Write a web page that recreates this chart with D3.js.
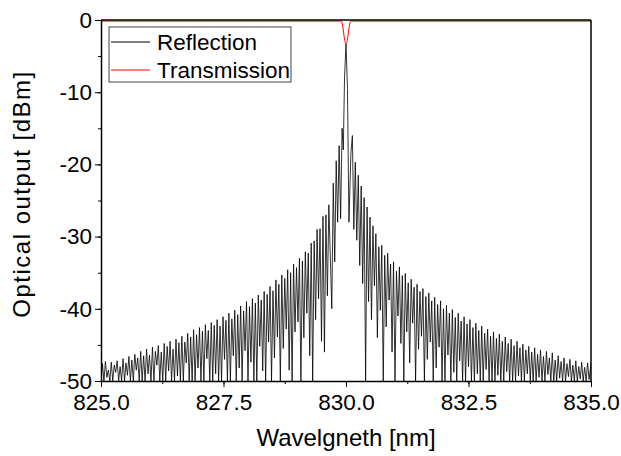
<!doctype html>
<html lang="en">
<head>
<meta charset="UTF-8" />
<title>FBG spectrum</title>
<script src="https://d3js.org/d3.v7.min.js"></script>
<style>
  body { margin: 0; background: #fff; font-family: 'Liberation Sans', Arial, sans-serif; }
  .axis text { font-size: 22.5px; fill: #000; }
  .axis path, .axis line { stroke: #000; }
</style>
</head>
<body>
<div id="chart-container"></div>
<script>
// reflection: left side lobes, one peak + one trough per 0.06 nm
var leftStart = 825.0;
var lobeStep = 0.06;
var leftPeaks = [
  -47.6, -47.3, -48.5, -47.4, -47.8, -47.2, -48.0, -46.9, -47.5, -46.6,
  -47.1, -46.3, -46.8, -45.9, -46.5, -45.6, -46.4, -45.3, -45.9, -45.1,
  -46.0, -44.8, -45.2, -44.5, -45.6, -44.2, -44.7, -43.8, -44.6, -43.4,
  -43.9, -42.9, -43.6, -42.6, -43.1, -42.2, -43.0, -41.9, -42.3, -41.5,
  -42.4, -41.1, -41.6, -40.6, -41.4, -40.2, -40.8, -39.6, -40.3, -39.0,
  -39.7, -38.6, -39.2, -38.1, -38.8, -37.6, -38.0, -36.9, -37.5, -36.0,
  -36.6, -35.3, -35.8, -34.6, -35.0, -33.8, -34.3, -33.0, -33.4, -32.1,
  -32.3, -30.9, -30.6, -29.0, -28.9, -27.2, -27.0, -25.6
];
var leftTroughs = [
  -50, -50, -49.5, -50, -50, -48.8, -50, -50, -50, -49.2,
  -50, -50, -48.5, -50, -50, -50, -49, -50, -50, -47.8,
  -50, -50, -50, -48.6, -50, -50, -49.3, -50, -50, -47.5,
  -50, -50, -50, -48.2, -50, -50, -46.9, -50, -50, -49,
  -50, -50, -47.0, -50, -50, -46.5, -50, -48.2, -50, -45.8,
  -50, -47.4, -50, -50, -45.2, -48.6, -50, -44.6, -50, -46.8,
  -43.9, -50, -45.5, -42.8, -48.5, -50, -43.2, -41.8, -50, -44.0,
  -40.6, -46.5, -50, -41.5, -38.6, -44.5, -46.0, -38.2
];

// main lobe around the Bragg wavelength
var centerWl = [829.71, 829.74, 829.77, 829.80, 829.83, 829.86, 829.89, 829.92, 829.945,
  829.97, 830.00, 830.03, 830.06, 830.10, 830.13, 830.16, 830.19, 830.22];
var centerDb = [-40.0, -22.6, -33.5, -19.5, -28.0, -17.4, -27.5, -15.0, -18.0,
  -8.0, -3.3, -9.5, -28.0, -18.5, -16.0, -29.0, -19.7, -30.5];

// right side lobes
var rightStart = 830.25;
var rightPeaks = [
  -21.5, -23.0, -24.6, -25.9, -27.3, -28.5, -29.6, -31.4, -31.2, -32.6,
  -32.3, -33.8, -33.5, -34.8, -34.2, -35.4, -35.1, -36.4, -35.9, -37.0,
  -36.6, -37.6, -37.2, -38.3, -37.8, -38.9, -38.4, -39.4, -38.9, -40.0,
  -39.5, -40.6, -40.1, -41.2, -40.6, -41.7, -41.1, -42.1, -41.5, -42.6,
  -42.0, -43.0, -42.4, -43.4, -42.8, -43.8, -43.2, -44.1, -43.5, -44.5,
  -43.9, -44.8, -44.2, -45.1, -44.5, -45.4, -44.9, -45.7, -45.2, -46.0,
  -45.4, -46.3, -45.7, -46.6, -45.9, -46.8, -46.1, -47.1, -46.5, -47.3,
  -46.8, -47.6, -47.0, -47.8, -47.2, -48.0, -47.4, -48.1, -47.5
];
var rightTroughs = [
  -34.0, -36.5, -50, -39.0, -41.5, -36.8, -44.0, -40.2, -50, -42.5,
  -38.8, -46.0, -50, -41.0, -44.8, -50, -43.2, -47.5, -42.0, -50,
  -45.6, -43.8, -50, -47.0, -44.6, -50, -48.2, -45.3, -50, -50,
  -46.4, -50, -48.8, -50, -47.2, -50, -50, -48.0, -50, -50,
  -49.0, -50, -50, -48.4, -50, -50, -50, -49.2, -50, -50,
  -48.7, -50, -50, -50, -49.3, -50, -50, -49.0, -50, -50,
  -50, -49.5, -50, -50, -49.1, -50, -50, -50, -49.6, -50,
  -50, -49.4, -50, -50, -50, -49.7, -50, -50, -49.8
];
var rightEnd = [835.0, -47.6];

// transmission
var transWl = [825.0, 829.90, 829.92, 829.94, 829.96, 829.98, 830.00, 830.02, 830.04, 830.06, 830.08, 830.10, 835.0];
var transDb = [-0.15, -0.15, -0.4, -1.2, -2.2, -3.0, -3.3, -3.0, -2.2, -1.2, -0.4, -0.15, -0.15];

var xTicks = [825.0, 827.5, 830.0, 832.5, 835.0];
var yTicks = [0, -10, -20, -30, -40, -50];

var canvasWidth = 621;
var canvasHeight = 456;
var margin = { top: 20, right: 30, bottom: 75, left: 101 };
var width = canvasWidth - margin.left - margin.right;
var height = canvasHeight - margin.top - margin.bottom;

// build the reflection trace
var refl = [];
leftPeaks.forEach(function (p, i) {
  refl.push([leftStart + i * lobeStep, leftTroughs[i]]);
  refl.push([leftStart + i * lobeStep + lobeStep / 2, p]);
});
centerWl.forEach(function (w, i) { refl.push([w, centerDb[i]]); });
rightPeaks.forEach(function (p, i) {
  refl.push([rightStart + i * lobeStep, p]);
  refl.push([rightStart + i * lobeStep + lobeStep / 2, rightTroughs[i]]);
});
refl.push(rightEnd);

var trans = transWl.map(function (w, i) { return [w, transDb[i]]; });

var svg = d3.select('#chart-container')
  .append('svg')
  .attr('width', canvasWidth)
  .attr('height', canvasHeight);

var g = svg.append('g')
  .attr('transform', 'translate(' + margin.left + ',' + margin.top + ')');

var x = d3.scaleLinear().domain([825, 835]).range([0, width]);
var y = d3.scaleLinear().domain([-50, 0]).range([height, 0]);

g.append('clipPath').attr('id', 'plot-clip')
  .append('rect').attr('width', width).attr('height', height);

var line = d3.line()
  .x(function (d) { return x(d[0]); })
  .y(function (d) { return y(d[1]); });

var plot = g.append('g').attr('clip-path', 'url(#plot-clip)');

plot.append('path')
  .datum(refl)
  .attr('fill', 'none')
  .attr('stroke', '#000')
  .attr('stroke-width', 0.8)
  .attr('d', line);

// minor ticks
g.append('g')
  .attr('class', 'axis')
  .attr('transform', 'translate(0,' + height + ')')
  .call(d3.axisBottom(x).tickValues(d3.range(825, 835.01, 1.25)).tickSize(3).tickFormat(''))
  .select('.domain').remove();
g.append('g')
  .attr('class', 'axis')
  .call(d3.axisLeft(y).tickValues(d3.range(-50, 0.01, 5)).tickSize(3).tickFormat(''))
  .select('.domain').remove();

// major axes
g.append('g')
  .attr('class', 'axis')
  .attr('transform', 'translate(0,' + height + ')')
  .call(d3.axisBottom(x).tickValues(xTicks).tickSize(6).tickSizeOuter(0).tickPadding(7).tickFormat(d3.format('.1f')))
  .call(function (a) { a.select('.domain').attr('stroke-width', 1.5); });

g.append('g')
  .attr('class', 'axis')
  .call(d3.axisLeft(y).tickValues(yTicks).tickSize(6).tickSizeOuter(0).tickPadding(3)
    .tickFormat(function (d) { return String(d); }))
  .call(function (a) { a.select('.domain').attr('stroke-width', 1.5); });

// top and right frame
g.append('line').attr('x1', 0).attr('x2', width).attr('y1', 0).attr('y2', 0)
  .attr('stroke', '#000').attr('stroke-width', 1.5);
g.append('line').attr('x1', width).attr('x2', width).attr('y1', 0).attr('y2', height)
  .attr('stroke', '#000').attr('stroke-width', 1.5);

plot.append('path')
  .datum(trans)
  .attr('fill', 'none')
  .attr('stroke', '#ff0000')
  .attr('stroke-width', 1)
  .attr('d', line.curve(d3.curveMonotoneX));

// axis titles
svg.append('text')
  .attr('x', margin.left + width / 2)
  .attr('y', 446)
  .attr('text-anchor', 'middle')
  .attr('font-size', '24px')
  .text('Wavelgneth [nm]');

svg.append('text')
  .attr('transform', 'rotate(-90)')
  .attr('x', -194)
  .attr('y', 30)
  .attr('text-anchor', 'middle')
  .attr('font-size', '24px')
  .attr('letter-spacing', '1.5px')
  .text('Optical output [dBm]');

// legend
var legend = svg.append('g').attr('transform', 'translate(109,27)');
legend.append('rect')
  .attr('width', 182).attr('height', 55)
  .attr('fill', '#fff').attr('stroke', '#444').attr('stroke-width', 1);
var legendItems = [['Reflection', '#000', 15], ['Transmission', '#ff0000', 43]];
legendItems.forEach(function (it) {
  legend.append('line')
    .attr('x1', 2).attr('x2', 41).attr('y1', it[2]).attr('y2', it[2])
    .attr('stroke', it[1]).attr('stroke-width', 1);
  legend.append('text')
    .attr('x', 48).attr('y', it[2] + 8)
    .attr('font-size', '22.5px')
    .text(it[0]);
});
</script>
</body>
</html>
